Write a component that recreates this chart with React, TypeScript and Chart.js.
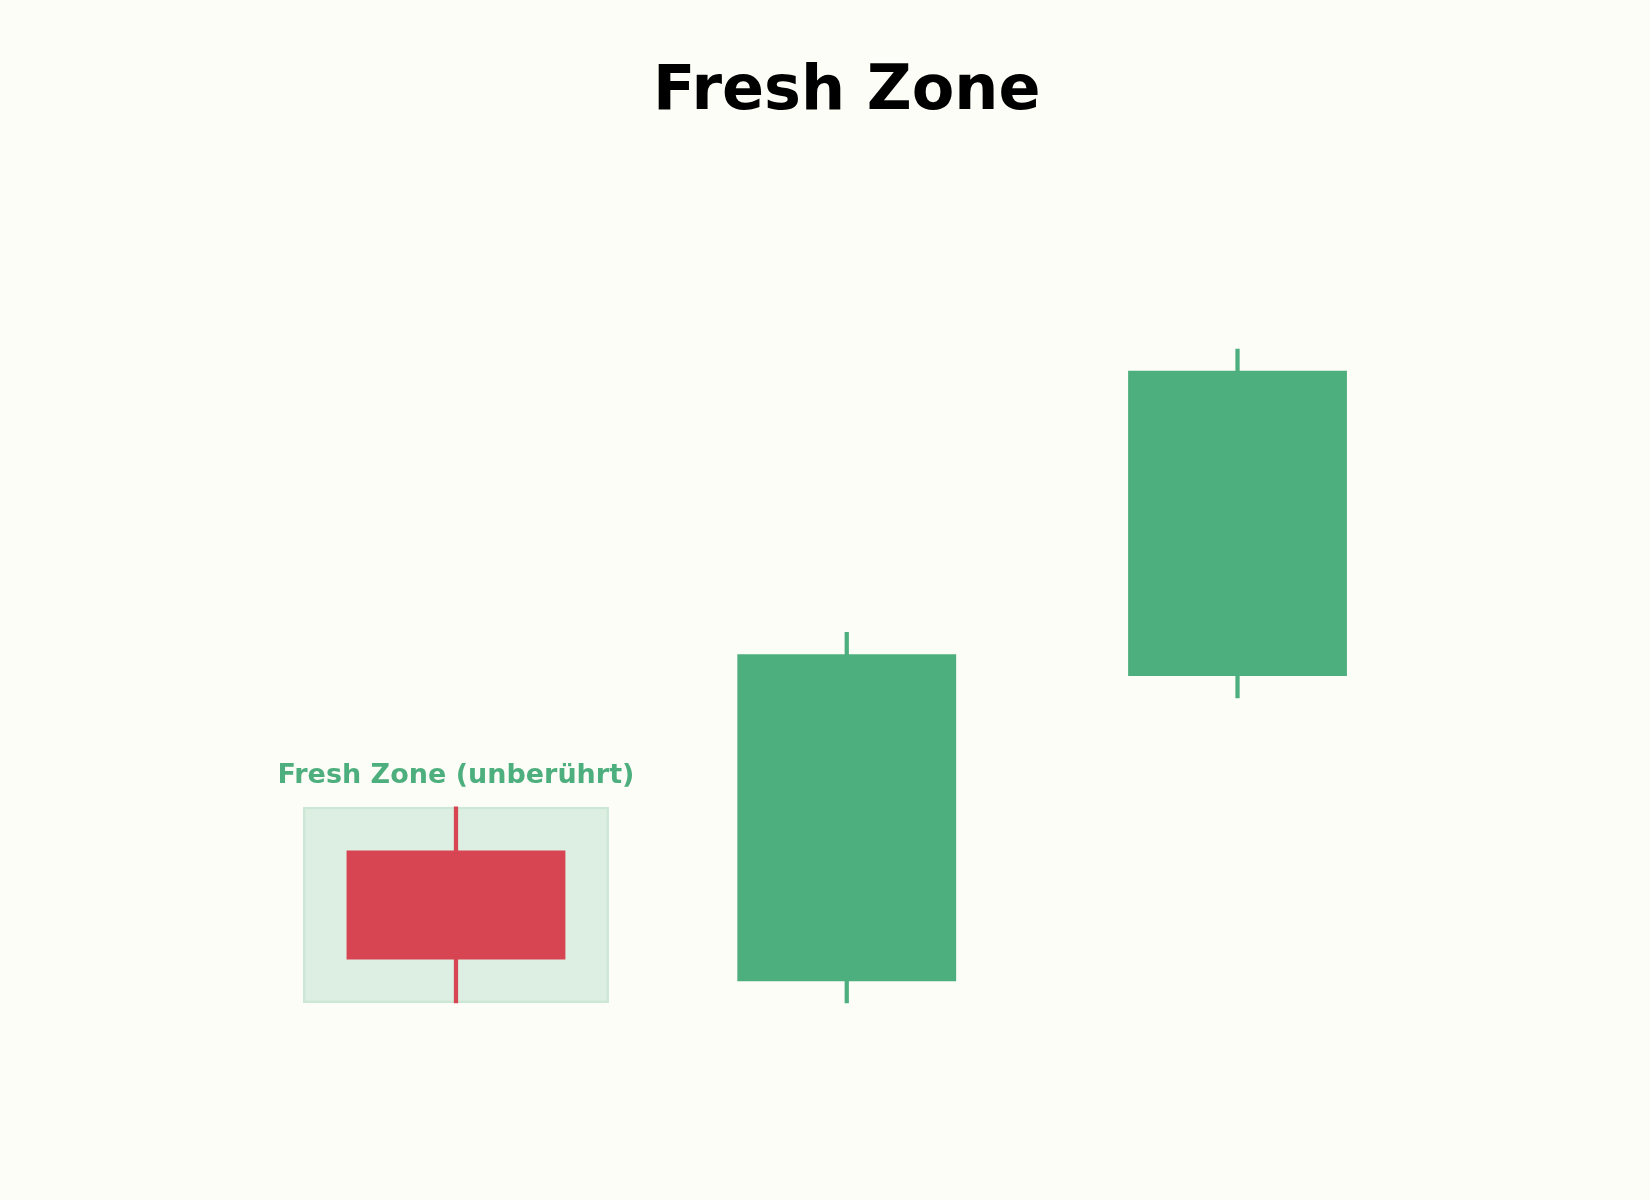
import { useEffect, useRef } from 'react';
import { Chart, registerables } from 'chart.js';

Chart.register(...registerables);

const LABELS = ['K1', 'K2', 'K3'];
const OPEN = [101.0, 99.8, 102.6];
const HIGH = [101.4, 103.0, 105.6];
const LOW = [99.6, 99.6, 102.4];
const CLOSE = [100.0, 102.8, 105.4];
const ZONE_INDEX = 0;
const ZONE_LABEL = 'Fresh Zone (unberührt)';
const TITLE = 'Fresh Zone';

const GREEN = '#4eaf7e';
const RED = '#d84552';
const ZONE_FILL = 'rgba(78,175,126,0.18)';
const ZONE_EDGE = 'rgba(78,175,126,0.28)';
const BG = '#fdfdf8';
const FONT = "'DejaVu Sans', Verdana, sans-serif";

const zoneLabelPlugin = {
  id: 'zoneLabel',
  afterDatasetsDraw(chart: Chart) {
    const { ctx, scales } = chart;
    const x = scales.x.getPixelForValue(ZONE_INDEX);
    const y = scales.y.getPixelForValue(HIGH[ZONE_INDEX]) - 24;
    ctx.save();
    ctx.font = `bold 27px ${FONT}`;
    ctx.fillStyle = GREEN;
    ctx.textAlign = 'center';
    ctx.textBaseline = 'alphabetic';
    ctx.fillText(ZONE_LABEL, x, y);
    ctx.restore();
  },
};

const bgPlugin = {
  id: 'bg',
  beforeDraw(chart: Chart) {
    const { ctx, width, height } = chart;
    ctx.save();
    ctx.fillStyle = BG;
    ctx.fillRect(0, 0, width, height);
    ctx.restore();
  },
};

export default function App() {
  const ref = useRef<HTMLCanvasElement>(null);
  const chart = useRef<Chart | null>(null);

  useEffect(() => {
    if (!ref.current) return;
    const colors = OPEN.map((o, i) => (CLOSE[i] >= o ? GREEN : RED));

    chart.current?.destroy();
    chart.current = new Chart(ref.current, {
      type: 'bar',
      data: {
        labels: LABELS,
        datasets: [
          {
            label: 'body',
            data: OPEN.map((o, i) => [o, CLOSE[i]]),
            backgroundColor: colors,
            borderWidth: 0,
            barPercentage: 0.56,
            categoryPercentage: 1,
            grouped: false,
          },
          {
            label: 'wick',
            data: LOW.map((l, i) => [l, HIGH[i]]),
            backgroundColor: colors,
            borderWidth: 0,
            barThickness: 3.6,
            grouped: false,
          },
          {
            label: 'zone',
            data: LABELS.map((_, i) => (i === ZONE_INDEX ? [LOW[i], HIGH[i]] : null)),
            backgroundColor: ZONE_FILL,
            borderColor: ZONE_EDGE,
            borderWidth: 2.5,
            borderSkipped: false,
            barPercentage: 0.783,
            categoryPercentage: 1,
            grouped: false,
          },
        ] as any,
      },
      options: {
        responsive: true,
        maintainAspectRatio: false,
        animation: false,
        layout: { padding: { left: 260.6, right: 217.1, top: 0, bottom: 22.6 } },
        plugins: {
          legend: { display: false },
          tooltip: { enabled: false },
          title: {
            display: true,
            text: TITLE,
            color: '#000',
            font: { family: FONT, size: 62, weight: 'bold', lineHeight: 1.2 },
            padding: { top: 55.4, bottom: 66.6 },
          },
        },
        scales: {
          x: { display: false, offset: true },
          y: { display: false, min: 98, max: 107 },
        },
      },
      plugins: [bgPlugin, zoneLabelPlugin],
    });

    return () => { chart.current?.destroy(); };
  }, []);

  return (
    <div style={{ position: 'fixed', left: 0, top: 0, width: 1650, height: 1200, background: BG }}>
      <canvas ref={ref} />
    </div>
  );
}
